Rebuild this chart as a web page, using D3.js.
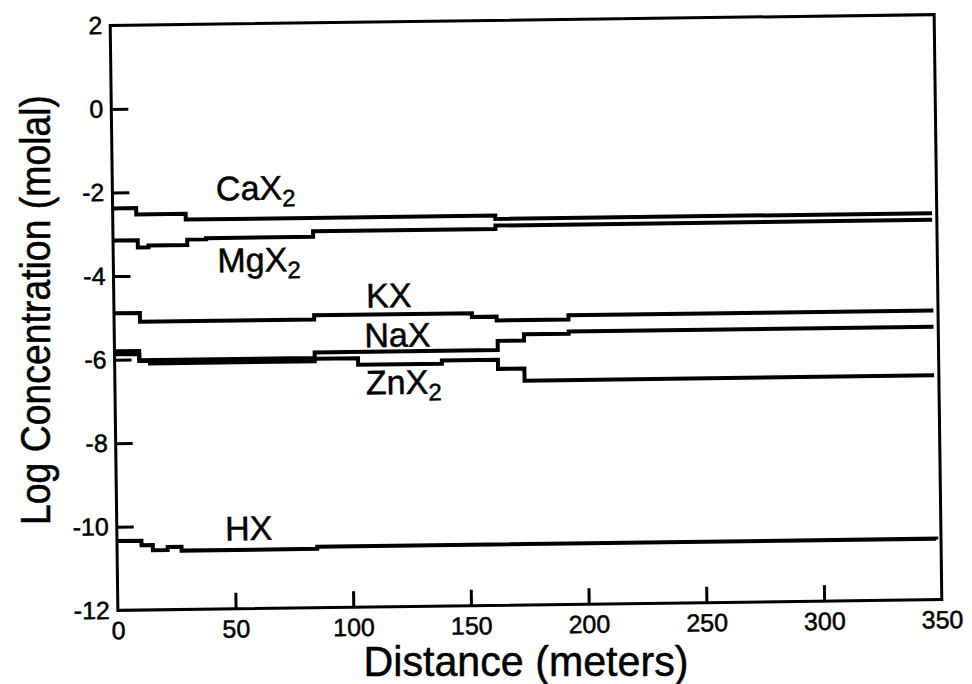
<!DOCTYPE html>
<html><head><meta charset="utf-8">
<script src="https://cdn.jsdelivr.net/npm/d3@7"></script>
<style>
html,body{margin:0;padding:0;background:#fff;}
svg{display:block;}
text{font-family:"Liberation Sans",Arial,Helvetica,sans-serif;fill:#000;stroke:#000;stroke-width:0.5px;}
</style>
</head><body>
<svg id="chart" width="972" height="684"></svg>
<script>
// ---- data (distance in meters, log concentration in molal) ----
const xTicks = [0, 50, 100, 150, 200, 250, 300, 350];
const yTicks = [2, 0, -2, -4, -6, -8, -10, -12];

const caX2Dist = [0, 10, 31, 162.5, 348];
const caX2Log  = [-2.38, -2.53, -2.67, -2.75, -2.75];

const mgX2Dist = [0, 10.5, 15, 31.5, 39.5, 85, 162.5, 348];
const mgX2Log  = [-3.15, -3.32, -3.28, -3.15, -3.12, -2.99, -2.91, -2.91];

const kXDist = [0, 11, 85, 152, 162.5, 193, 348];
const kXLog  = [-4.89, -5.10, -5.00, -5.09, -5.18, -5.08, -5.08];

const naXDist = [0, 10.5, 85, 162.8, 174, 193, 348];
const naXLog  = [-5.80, -6.02, -5.89, -5.67, -5.52, -5.47, -5.47];

const znX2Dist = [0, 10.5, 15, 85, 103.4, 139, 162.8, 174, 348];
const znX2Log  = [-5.87, -6.04, -6.10, -6.04, -6.20, -6.12, -6.34, -6.63, -6.63];

const hXDist = [0, 10.4, 15.2, 21.5, 27.4, 85, 348];
const hXLog  = [-10.34, -10.45, -10.57, -10.50, -10.59, -10.54, -10.56];

const seriesNames = ["CaX", "MgX", "KX", "NaX", "ZnX", "HX"];
const seriesSubs  = ["2", "2", "", "", "2", ""];
const seriesDist  = [caX2Dist, mgX2Dist, kXDist, naXDist, znX2Dist, hXDist];
const seriesLog   = [caX2Log, mgX2Log, kXLog, naXLog, znX2Log, hXLog];

// label anchor points (data coordinates)
const labelDist = [44.0, 44.2, 107.2, 106.2, 106.6, 46.0];
const labelLog  = [-2.22, -3.94, -4.83, -5.78, -6.91, -10.36];

// ---- layout ----
const L = 114, R = 938, T = 20, B = 605;
const svg = d3.select("#chart");
const x = d3.scaleLinear().domain([0, 350]).range([L, R]);
const y = d3.scaleLinear().domain([-12, 2]).range([B, T]);
const fmt = d => String(d);   // plain hyphen-minus as in the original

const g = svg.append("g").attr("transform", "rotate(-0.75, 526, 312)");

// y axis
const gy = g.append("g")
  .attr("transform", `translate(${L},0)`)
  .call(d3.axisLeft(y).tickValues(yTicks).tickSize(-17).tickSizeOuter(0).tickPadding(8)
        .tickFormat(fmt));
gy.attr("font-size", 25).attr("font-family", "Liberation Sans, Arial, sans-serif");
gy.select(".domain").remove();
gy.selectAll(".tick line").attr("stroke", "#000").attr("stroke-width", 3)
  .filter(d => d === 2 || d === -12).remove();
gy.selectAll(".tick text").attr("fill", "#000");

// x axis
const gx = g.append("g")
  .attr("transform", `translate(0,${B})`)
  .call(d3.axisBottom(x).tickValues(xTicks).tickSize(-16).tickSizeOuter(0).tickPadding(11)
        .tickFormat(fmt));
gx.attr("font-size", 25).attr("font-family", "Liberation Sans, Arial, sans-serif");
gx.select(".domain").remove();
gx.selectAll(".tick line").attr("stroke", "#000").attr("stroke-width", 3)
  .filter(d => d === 0 || d === 350).remove();
gx.selectAll(".tick text").attr("fill", "#000");

// frame
g.append("rect")
  .attr("x", x(0)).attr("y", y(2))
  .attr("width", x(350) - x(0)).attr("height", y(-12) - y(2))
  .attr("fill", "none").attr("stroke", "#000").attr("stroke-width", 3);

// series
const line = d3.line()
  .x(d => x(d[0])).y(d => y(d[1]))
  .curve(d3.curveStepAfter);

seriesNames.forEach((name, i) => {
  const pts = seriesDist[i].map((d, j) => [d, seriesLog[i][j]]);
  g.append("path")
    .attr("d", line(pts))
    .attr("fill", "none")
    .attr("stroke", "#000")
    .attr("stroke-width", 4)
    .attr("stroke-linejoin", "miter");

  const t = g.append("text")
    .attr("x", x(labelDist[i]))
    .attr("y", y(labelLog[i]))
    .attr("font-size", 34)
    .text(name);
  if (seriesSubs[i]) {
    t.append("tspan").attr("font-size", 24).attr("dy", 7).text(seriesSubs[i]);
  }
});

// axis titles
svg.append("text")
  .attr("x", 526).attr("y", 676)
  .attr("text-anchor", "middle")
  .attr("font-size", 42)
  .attr("textLength", 325).attr("lengthAdjust", "spacingAndGlyphs")
  .text("Distance (meters)");

svg.append("text")
  .attr("transform", "translate(50,310) rotate(-90)")
  .attr("text-anchor", "middle")
  .attr("font-size", 42)
  .attr("textLength", 430).attr("lengthAdjust", "spacingAndGlyphs")
  .text("Log Concentration (molal)");
</script>
</body></html>
